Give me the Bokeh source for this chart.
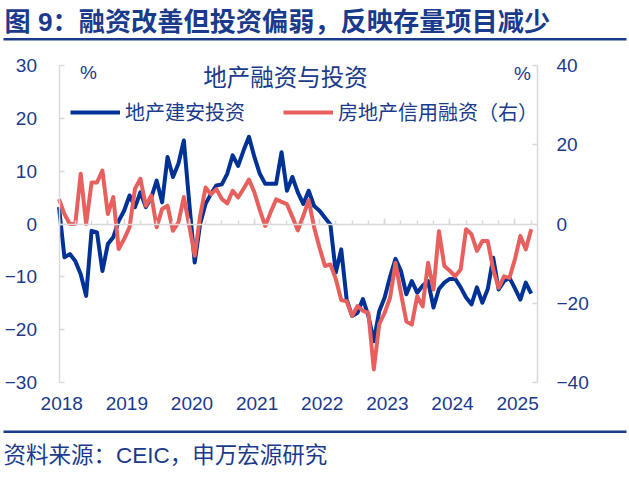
from bokeh.plotting import figure
from bokeh.models import (Range1d, LinearAxis, FixedTicker, Label, Legend, LegendItem,
                          BoxAnnotation)
from bokeh.embed import file_html
from bokeh.resources import INLINE

# ---------------- data (monthly, Jan 2018 - Apr 2025) ----------------
year_labels = ["2018", "2019", "2020", "2021", "2022", "2023", "2024", "2025"]

construction_invest = [  # 地产建安投资, %, left axis
    3.2, -6.3, -5.7, -7.0, -9.5, -13.6, -1.3, -1.6, -8.9, -3.8,
    -2.5, 0.6, 2.5, 5.4, 3.2, 6.0, 3.2, 5.0, 8.2, 4.1,
    12.7, 8.9, 11.4, 15.8, 4.0, -7.3, 0.0, 3.8, 5.7, 7.3,
    7.5, 9.5, 13.0, 11.0, 13.9, 16.5, 12.7, 9.5, 7.6, 7.6,
    7.6, 13.6, 6.3, 8.9, 6.0, 3.8, 6.3, 3.4, 2.5, 1.2,
    -0.1, -9.2, -4.8, -14.3, -17.4, -16.8, -14.2, -17.4, -22.2, -16.5,
    -13.9, -10.0, -6.6, -8.9, -13.3, -10.8, -13.0, -11.7, -10.8, -15.8,
    -12.3, -11.1, -10.4, -10.4, -12.0, -13.9, -15.2, -12.0, -14.9, -12.3,
    -6.4, -12.4, -10.8, -10.2, -12.2, -14.3, -11.1, -13.2,
]

credit_financing = [  # 房地产信用融资, %, right axis
    6.3, 2.5, 0.0, 0.0, 12.7, 0.0, 10.5, 10.5, 13.5, 2.5,
    6.8, -6.3, -3.8, -0.8, 8.9, 11.4, 4.6, 7.2, -0.8, 3.8,
    4.6, -1.7, 0.4, 6.8, -0.5, -8.0, 2.0, 9.2, 7.5, 8.8,
    6.3, 5.2, 8.4, 6.7, 8.9, 11.2, 8.0, 3.5, -0.5, 3.0,
    6.2, 5.6, 5.0, 1.8, -1.6, 2.0, 6.0, -0.8, -6.0, -10.6,
    -10.2, -13.9, -19.2, -19.5, -23.2, -20.7, -21.9, -22.4, -36.7, -25.3,
    -22.4, -18.6, -9.8, -17.5, -24.6, -25.4, -18.2, -20.8, -9.8, -16.5,
    -1.8, -10.6, -11.8, -13.2, -11.5, -1.3, -2.6, -6.8, -4.3, -4.3,
    -11.5, -16.1, -13.2, -13.6, -8.9, -3.0, -6.4, -1.3,
]

months = list(range(len(construction_invest)))
left_ticks = [-30, -20, -10, 0, 10, 20, 30]
right_ticks = [-40, -20, 0, 20, 40]

TITLE = "图 9：融资改善但投资偏弱，反映存量项目减少"
CHART_TITLE = "地产融资与投资"
SOURCE = "资料来源：CEIC，申万宏源研究"

# ---------------- style / layout ----------------
NAVY = "#1a3a8c"
BLUE = "#003296"
RED = "#e8605e"
GRAY = "#d9d9d9"
CJK = "Noto Sans CJK SC"
MIX = "Liberation Sans, Noto Sans CJK SC"
LAT = "Liberation Sans"

W, H = 627, 476                 # canvas (frame covers all of it)
PX_LEFT, PX_RIGHT = 58.5, 537   # plot area, px from left
PX_TOP, PX_BOT = 65, 382        # plot area, px from top
X_FIRST_PX, X_LAST_PX = 58.5, 530.7
n = len(months)
sx = (X_LAST_PX - X_FIRST_PX) / (n - 1)
x_start = -X_FIRST_PX / sx
x_end = (W - X_FIRST_PX) / sx
x_right_axis = (PX_RIGHT - X_FIRST_PX) / sx


def yrange(lo, hi):
    s = (PX_BOT - PX_TOP) / (hi - lo)
    return Range1d(lo - (H - PX_BOT) / s, hi + PX_TOP / s)


p = figure(width=W, height=H, output_backend="svg", toolbar_location=None,
           x_range=Range1d(x_start, x_end), y_range=yrange(-30, 30),
           min_border=0)
p.outline_line_color = None
p.grid.visible = False
p.extra_y_ranges = {"right": yrange(-40, 40)}


def style_axis(ax):
    ax.axis_line_color = GRAY
    ax.axis_line_width = 1.5
    ax.major_tick_line_color = GRAY
    ax.major_tick_line_width = 1.5
    ax.major_tick_out = 0
    ax.minor_tick_out = 0
    ax.major_label_text_font = LAT
    ax.major_label_text_font_size = "19px"
    ax.major_label_text_color = NAVY


# left axis
ya = p.yaxis[0]
style_axis(ya)
ya.fixed_location = 0
ya.bounds = (-30, 30)
ya.ticker = FixedTicker(ticks=left_ticks, minor_ticks=[])
ya.major_tick_in = 5
ya.minor_tick_line_color = None
ya.major_label_standoff = 22

# right axis
yr = LinearAxis(y_range_name="right", ticker=FixedTicker(ticks=right_ticks, minor_ticks=[]))
style_axis(yr)
yr.fixed_location = x_right_axis
yr.bounds = (-40, 40)
yr.major_tick_in = 5
yr.minor_tick_line_color = None
yr.major_label_standoff = 19
p.add_layout(yr, "right")

# zero-line axis with tick marks (no labels)
year_pos = [12 * k for k in range(len(year_labels))]
xa = p.xaxis[0]
style_axis(xa)
xa.fixed_location = 0
xa.bounds = (0, x_right_axis)
xa.ticker = FixedTicker(ticks=year_pos, minor_ticks=list(range(0, n + 1, 3)))
xa.major_tick_in = 6
xa.minor_tick_line_color = GRAY
xa.minor_tick_line_width = 1.5
xa.minor_tick_in = 4
xa.major_label_overrides = {t: "" for t in year_pos}
xa.major_label_text_font_size = "1px"
xa.major_label_standoff = 0

# year labels axis under the plot area
lab_pos = [12 * k + 0.5 for k in range(len(year_labels))]
xb = LinearAxis(ticker=FixedTicker(ticks=lab_pos, minor_ticks=[]))
style_axis(xb)
xb.fixed_location = -30
xb.major_label_overrides = {t: s for t, s in zip(lab_pos, year_labels)}
xb.axis_line_color = None
xb.major_tick_line_color = None
xb.minor_tick_line_color = None
xb.major_label_standoff = 14
p.add_layout(xb, "below")

# series
r_blue = p.line(months, construction_invest, line_color=BLUE, line_width=4,
                line_join="round")
r_red = p.line(months, credit_financing, y_range_name="right", line_color=RED,
               line_width=4, line_join="round")

legend = Legend(items=[LegendItem(label="地产建安投资", renderers=[r_blue]),
                       LegendItem(label="房地产信用融资（右）", renderers=[r_red])],
                orientation="horizontal", location=(70, H - 115 - 11),
                glyph_width=50, glyph_height=22, label_standoff=5, spacing=38,
                padding=0, margin=0, border_line_color=None,
                background_fill_alpha=0,
                label_text_font=CJK, label_text_font_size="20px",
                label_text_color=NAVY)
p.add_layout(legend)


def label(x, y, text, font, size, align="left", style="normal"):
    p.add_layout(Label(x=x, y=H - y, x_units="screen", y_units="screen", text=text,
                       text_font=font, text_font_size=size, text_font_style=style,
                       text_color=NAVY, text_baseline="middle", text_align=align))


label(4, 21, TITLE, MIX, "26.2px", style="bold")
label(285, 75, CHART_TITLE, CJK, "23.5px", align="center")
label(88, 72, "%", LAT, "19px", align="center")
label(522, 73, "%", LAT, "19px", align="center")
label(3, 455, SOURCE, MIX, "22.5px")


def rule(y_top, y_bot):
    p.add_layout(BoxAnnotation(left=3, right=626, bottom=H - y_bot, top=H - y_top,
                               left_units="screen", right_units="screen",
                               bottom_units="screen", top_units="screen",
                               fill_color=NAVY, fill_alpha=1, line_color=None))


rule(37.5, 40)
rule(430, 432.5)

open("out.html", "w").write(file_html(p, INLINE))
